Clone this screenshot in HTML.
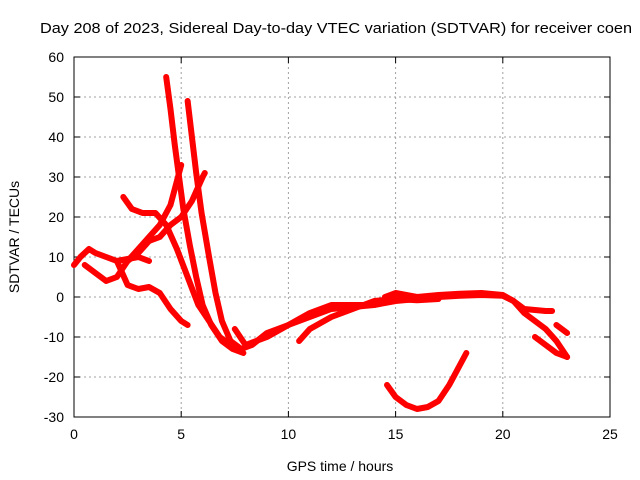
<!DOCTYPE html>
<html><head><meta charset="utf-8"><style>
body{margin:0;background:#fff}
svg{display:block;font-family:"Liberation Sans",sans-serif}
</style></head><body>
<svg id="chart" width="640" height="480" viewBox="0 0 640 480">
<rect width="640" height="480" fill="#fff"/>
<g id="grid"></g>
<g id="axes"></g>
<g id="series"></g>
<text x="40" y="33" font-size="15" textLength="592" lengthAdjust="spacingAndGlyphs" fill="#000">Day 208 of 2023, Sidereal Day-to-day VTEC variation (SDTVAR) for receiver coen</text>
<text x="340" y="471" font-size="14" text-anchor="middle">GPS time / hours</text>
<text x="0" y="0" font-size="14" text-anchor="middle" transform="translate(19,237) rotate(-90)">SDTVAR / TECUs</text>
</svg>
<script>
const xTicks=[0,5,10,15,20,25];
const yTicks=[-30,-20,-10,0,10,20,30,40,50,60];
const track1=[[4.3,55],[4.5,47],[4.7,38],[4.9,30],[5.1,22],[5.4,13],[5.7,5],[6.0,-2],[6.4,-7],[6.9,-11],[7.4,-13],[7.9,-14]];
const track2=[[5.3,49],[5.5,40],[5.7,31],[5.95,21],[6.3,10],[6.6,1],[6.9,-6],[7.3,-11],[7.8,-13],[8.3,-12],[9,-9],[10,-7],[11,-5],[12,-3],[13,-2.5],[14,-2]];
const track3=[[0,8],[0.3,10],[0.7,12],[1.0,11],[1.5,10],[2,9],[2.5,9.5],[3,10],[3.5,9]];
const track4=[[0.5,8],[1,6],[1.5,4],[2,5],[2.5,9],[3,11],[3.5,14],[4,15],[4.5,18],[5,20],[5.5,24],[6,30],[6.1,31]];
const track5=[[2,9],[2.5,3],[3,2],[3.5,2.5],[4,1],[4.5,-3],[5,-6],[5.3,-7]];
const track6=[[2.3,25],[2.7,22],[3.2,21],[3.8,21],[4.3,18],[4.8,12],[5.3,5],[5.8,-2],[6.3,-6],[6.8,-10],[7.3,-12]];
const track7=[[2.5,9],[3,12],[3.5,15],[4,18],[4.5,23],[4.8,29],[5,33]];
const track8=[[7.5,-8],[8,-12],[9,-10],[10,-7],[11,-4],[12,-2],[13,-2],[14,-2],[15,-1],[16,-0.5],[17,0],[18,0.3],[19,0.5],[20,0.3],[20.5,-1],[21,-3],[22,-3.5],[22.3,-3.5]];
const track9=[[10.5,-11],[11,-8],[12,-5],[13,-3],[14,-1],[15,-0.5],[16,-0.8],[17,-0.5]];
const track10=[[14.5,0],[15,1],[16,0],[17,0.5],[18,0.8],[19,1],[20,0.5],[20.5,-1],[21,-4],[22,-8],[22.5,-11],[23,-15]];
const track11=[[21.5,-10],[22,-12],[22.5,-14],[23,-15]];
const track12=[[22.5,-7],[23,-9]];
const track13=[[14.6,-22],[15,-25],[15.5,-27],[16,-28],[16.5,-27.5],[17,-26],[17.5,-22],[18,-17],[18.3,-14]];
const tracks=[track1,track2,track3,track4,track5,track6,track7,track8,track9,track10,track11,track12,track13];
const L=74,R=610,T=57,B=417,ns="http://www.w3.org/2000/svg";
const sx=v=>L+(v-0)/25*(R-L), sy=v=>B-(v+30)/90*(B-T);
const grid=document.getElementById('grid'),axes=document.getElementById('axes'),ser=document.getElementById('series');
function mk(tag,attrs,parent){const e=document.createElementNS(ns,tag);for(const k in attrs)e.setAttribute(k,attrs[k]);parent.appendChild(e);return e;}
xTicks.forEach(t=>{const x=sx(t);
 if(t>0&&t<25){const g=mk('line',{x1:x,x2:x,y1:T,y2:B,stroke:'#a0a0a0','stroke-dasharray':'2,3','stroke-width':1},grid);}
 const tl=mk('text',{x:x,y:B+22,'font-size':14,'text-anchor':'middle'},axes);tl.textContent=t;
 
 
 mk('line',{x1:x,x2:x,y1:B,y2:B-6,stroke:'#000'},axes);mk('line',{x1:x,x2:x,y1:T,y2:T+6,stroke:'#000'},axes);});
yTicks.forEach(t=>{const y=sy(t);
 if(t>-30&&t<60){const g=mk('line',{x1:L,x2:R,y1:y,y2:y,stroke:'#a0a0a0','stroke-dasharray':'2,3','stroke-width':1},grid);}
 const tl=mk('text',{x:L-10,y:y+5,'font-size':14,'text-anchor':'end'},axes);tl.textContent=t;
 
 
 mk('line',{x1:L,x2:L+6,y1:y,y2:y,stroke:'#000'},axes);mk('line',{x1:R,x2:R-6,y1:y,y2:y,stroke:'#000'},axes);});
const fr=mk('rect',{x:L,y:T,width:R-L,height:B-T,fill:'none',stroke:'#000'},axes);


tracks.forEach((tr,i)=>{
 const p=mk('polyline',{points:tr.map(d=>sx(d[0])+','+sy(d[1])).join(' '),fill:'none',stroke:'#ff0000','stroke-width':6,'stroke-linejoin':'round','stroke-linecap':'round'},ser);
 
 
});
</script>
</body></html>
